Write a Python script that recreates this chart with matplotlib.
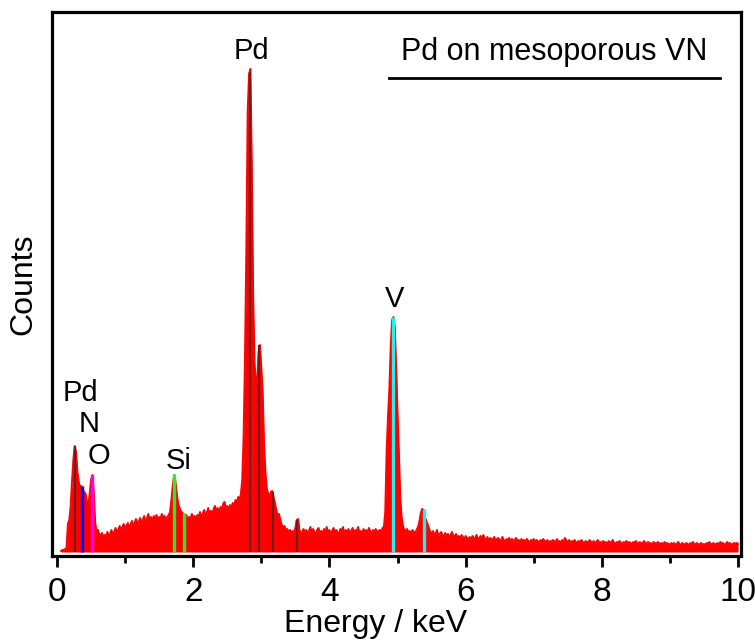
import numpy as np
import matplotlib
matplotlib.use("Agg")
import matplotlib.pyplot as plt

plt.rcParams['font.family'] = ['Liberation Sans', 'DejaVu Sans']

# EDS spectrum, counts (arb. units), 0.02 keV channels from 0.06 keV
e_start = 0.06
e_step = 0.02
counts = [
    1, 2, 2, 3, 4, 28, 32, 45, 70, 92,            # 0.06
    106, 100, 80, 70, 64, 66, 62, 60, 58, 50,     # 0.26
    46, 58, 72, 77, 60, 30, 20, 22, 18, 16,       # 0.46
    19, 14, 17, 15, 20, 16, 18, 22, 17, 20,       # 0.66
    24, 19, 22, 26, 21, 25, 28, 23, 26, 29,       # 0.86
    24, 27, 31, 26, 29, 33, 28, 30, 34, 29,       # 1.06
    32, 36, 30, 33, 38, 32, 35, 31, 36, 33,       # 1.26
    37, 32, 35, 34, 38, 33, 36, 32, 35, 37,       # 1.46
    40, 52, 66, 77, 70, 58, 48, 44, 41, 39,       # 1.66
    38, 34, 37, 31, 35, 33, 38, 34, 36, 32,       # 1.86
    37, 35, 40, 34, 38, 42, 36, 39, 44, 37,       # 2.06
    41, 38, 43, 46, 40, 44, 39, 45, 42, 48,       # 2.26
    50, 43, 46, 41, 47, 44, 49, 45, 52, 48,       # 2.46
    55, 52, 58, 72, 115, 192, 300, 440, 478, 483, # 2.66
    392, 259, 190, 168, 172, 200, 207, 185, 160, 109,  # 2.86
    80, 64, 58, 56, 60, 61, 55, 49, 42, 36,       # 3.06
    38, 32, 27, 25, 26, 22, 23, 20, 22, 19,       # 3.26
    21, 20, 24, 32, 33, 22, 18, 20, 23, 19,       # 3.46
    22, 18, 21, 25, 19, 23, 20, 17, 22, 24,       # 3.66
    19, 21, 18, 23, 20, 25, 19, 22, 18, 21,       # 3.86
    24, 19, 22, 20, 17, 23, 21, 25, 18, 22,       # 4.06
    20, 23, 19, 21, 24, 18, 22, 20, 25, 19,       # 4.26
    21, 18, 23, 20, 22, 19, 24, 21, 18, 22,       # 4.46
    20, 23, 19, 21, 22, 20, 24, 25, 40, 100,      # 4.66
    135, 162, 205, 232, 235, 225, 185, 140, 100, 55,  # 4.86
    35, 26, 22, 20, 23, 19, 21, 18, 22, 20,       # 5.06
    19, 22, 25, 30, 38, 43, 42, 35, 32, 28,       # 5.26
    24, 20, 18, 21, 17, 19, 22, 16, 18, 20,       # 5.46
    17, 15, 19, 16, 18, 14, 17, 20, 15, 16,       # 5.66
    18, 14, 16, 13, 17, 15, 12, 16, 14, 13,       # 5.86
    15, 12, 16, 14, 13, 17, 12, 14, 16, 13,       # 6.06
    17, 13, 12, 15, 11, 14, 13, 12, 15, 11,       # 6.26
    13, 14, 11, 12, 15, 12, 10, 13, 12, 14,       # 6.46
    11, 13, 10, 12, 14, 11, 12, 10, 13, 11,       # 6.66
    12, 10, 13, 11, 9, 12, 11, 13, 10, 12,        # 6.86
    11, 9, 12, 10, 13, 11, 10, 12, 9, 11,         # 7.06
    10, 12, 11, 9, 13, 10, 11, 9, 12, 10,         # 7.26
    14, 11, 10, 12, 9, 11, 10, 12, 9, 10,         # 7.46
    11, 9, 12, 10, 8, 11, 10, 9, 12, 10,          # 7.66
    9, 11, 8, 10, 12, 9, 10, 8, 11, 9,            # 7.86
    10, 8, 11, 9, 10, 12, 9, 8, 10, 9,            # 8.06
    11, 9, 8, 10, 9, 11, 8, 10, 9, 8,             # 8.26
    10, 9, 11, 8, 9, 10, 8, 9, 11, 8,             # 8.46
    9, 10, 8, 9, 7, 10, 9, 8, 10, 9,              # 8.66
    8, 9, 7, 10, 8, 9, 8, 7, 9, 8,                # 8.86
    9, 7, 8, 10, 8, 7, 9, 8, 7, 9,                # 9.06
    8, 7, 9, 8, 10, 7, 8, 9, 7, 8,                # 9.26
    9, 7, 8, 7, 9, 8, 10, 7, 8, 9,                # 9.46
    7, 8, 9, 7, 10, 8, 9, 7, 8, 10,               # 9.66
    8, 9, 7, 8, 9, 8, 9, 8,                       # 9.86
]
energy = e_start + e_step * np.arange(len(counts))

# element marker lines: position [keV], height, element
line_energy = [0.27, 0.36, 0.52, 1.72, 1.86, 2.84, 2.97, 3.17, 3.53, 4.93, 5.39]
line_top = [106, 66, 77, 78, 39, 480, 207, 60, 32, 235, 43]
line_element = ['Pd', 'N', 'O', 'Si', 'Si', 'Pd', 'Pd', 'Pd', 'Pd', 'V', 'V']

element_color = {'Pd': '#6e1c1c', 'N': '#0000ff', 'O': '#ff00ff', 'Si': '#22ee22', 'V': '#22f0f0'}
element_lw = {'Pd': 1.6, 'N': 2.4, 'O': 2.4, 'Si': 2.4, 'V': 2.4}

fig = plt.figure(figsize=(7.55, 6.43), dpi=100)
ax = fig.add_axes([0.0689, 0.1353, 0.9126, 0.846])

ax.fill_between(energy, 0, counts, color='#ff0000', lw=0)
ax.plot(energy, counts, color='#ff0000', lw=1.4)

for e, top, el in zip(line_energy, line_top, line_element):
    ax.plot([e, e], [0, top], color=element_color[el], lw=element_lw[el], solid_capstyle='butt')

ax.set_xlim(-0.073, 10.044)
ax.set_ylim(-4, 540)

# peak labels
ax.text(2.85, 501, 'Pd', fontsize=21, ha='center', va='center')
ax.text(4.95, 253, 'V', fontsize=21, ha='center', va='center')
ax.text(0.34, 159, 'Pd', fontsize=21, ha='center', va='center')
ax.text(0.47, 128, 'N', fontsize=21, ha='center', va='center')
ax.text(0.62, 96, 'O', fontsize=21, ha='center', va='center')
ax.text(1.78, 91, 'Si', fontsize=21, ha='center', va='center')

ax.text(7.30, 500, 'Pd on mesoporous VN', fontsize=22, ha='center', va='center')
ax.plot([4.87, 9.74], [474, 474], color='black', lw=2.0)

ax.set_xticks([0, 2, 4, 6, 8, 10])
ax.set_xticks([1, 3, 5, 7, 9], minor=True)
ax.set_yticks([])
ax.tick_params(axis='x', which='major', direction='out', length=8, width=2, labelsize=24, pad=7)
ax.tick_params(axis='x', which='minor', direction='out', length=5, width=2)
for s in ax.spines.values():
    s.set_linewidth(2.3)

ax.set_xlabel('Energy / keV', fontsize=23)
ax.xaxis.set_label_coords(0.47, -0.097)
ax.set_ylabel('Counts', fontsize=23)
ax.yaxis.set_label_coords(-0.02, 0.5)

fig.savefig('out.png', dpi=100)
